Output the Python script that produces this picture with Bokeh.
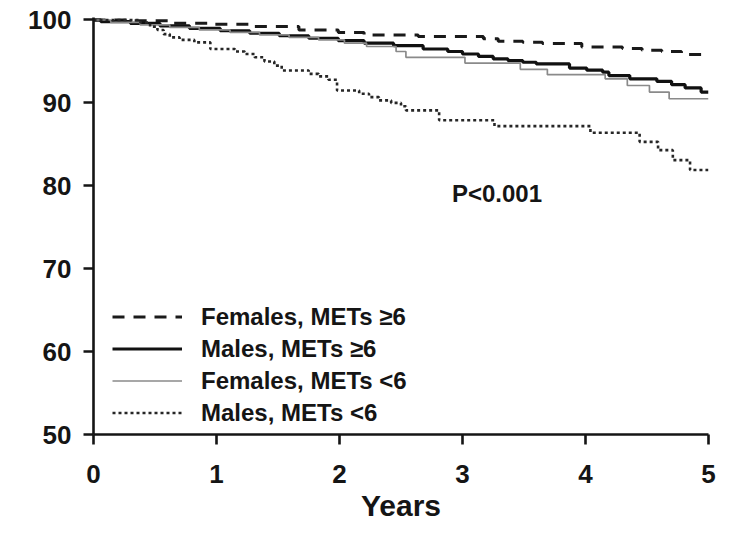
from bokeh.plotting import figure
from bokeh.models import Range1d, FixedTicker, Legend, LegendItem, Label
from bokeh.embed import file_html
from bokeh.resources import INLINE

# ---- data (years, % survival) ----
fem_hi_t = [0, 0.30, 0.62, 0.95, 1.27, 1.67, 1.99, 2.20, 2.64, 3.17, 3.29, 3.49, 3.65, 3.97,
            4.30, 4.46, 4.62, 4.78, 4.94, 5.0]
fem_hi_s = [100, 99.9, 99.6, 99.5, 99.2, 98.8, 98.5, 98.2, 98.0, 97.75, 97.45, 97.3, 97.15, 96.75,
            96.55, 96.35, 96.2, 95.85, 95.75, 95.75]

male_hi_t = [0, 0.06, 0.30, 0.54, 0.78, 1.03, 1.27, 1.51, 1.75, 1.99, 2.20, 2.44, 2.68, 2.88, 3.00,
             3.13, 3.25, 3.37, 3.49, 3.60, 3.87, 4.01, 4.14, 4.19, 4.36, 4.58, 4.70, 4.81, 4.94, 5.0]
male_hi_s = [100, 99.8, 99.6, 99.3, 99.0, 98.7, 98.4, 98.1, 97.8, 97.5, 97.2, 96.9, 96.5, 96.2, 95.9,
             95.6, 95.3, 95.1, 94.9, 94.7, 94.2, 93.95, 93.7, 93.3, 92.9, 92.6, 92.2, 91.8, 91.3, 91.3]

fem_lo_t = [0, 0.14, 0.38, 0.62, 0.86, 1.11, 1.35, 1.59, 1.83, 2.04, 2.22, 2.46, 2.54, 3.02, 3.47,
            3.69, 4.16, 4.34, 4.52, 4.68, 5.0]
fem_lo_s = [100, 99.7, 99.4, 99.1, 98.8, 98.5, 98.2, 97.9, 97.6, 97.2, 96.8, 96.2, 95.5, 94.8, 94.05,
            93.4, 92.9, 92.1, 91.3, 90.5, 90.5]

male_lo_t = [0, 0.38, 0.46, 0.52, 0.57, 0.62, 0.70, 0.82, 0.95, 1.15, 1.23, 1.31, 1.39, 1.47, 1.53,
             1.75, 1.83, 1.91, 1.98, 2.16, 2.24, 2.32, 2.42, 2.50, 2.54, 2.81, 3.26, 4.04, 4.44,
             4.59, 4.71, 4.85, 5.0]
male_lo_s = [100, 99.7, 99.2, 98.8, 98.3, 97.9, 97.6, 97.3, 96.5, 96.2, 95.9, 95.5, 95.0, 94.5, 93.9,
             93.5, 93.2, 92.8, 91.5, 91.1, 90.7, 90.3, 90.0, 89.6, 89.1, 87.9, 87.2, 86.4, 85.3,
             84.3, 83.1, 81.9, 81.9]

series_labels = ["Females, METs \u22656", "Males, METs \u22656",
                 "Females, METs <6", "Males, METs <6"]
x_ticks = [0, 1, 2, 3, 4, 5]
y_ticks = [50, 60, 70, 80, 90, 100]
x_title = "Years"
p_text = "P<0.001"
p_text_pos = (3.28, 79.1)

FONT = "Liberation Sans"
INK = "#151515"

p = figure(width=717, height=524, output_backend="svg", toolbar_location=None,
           x_range=Range1d(0, 5), y_range=Range1d(50, 100.3),
           min_border_left=93, min_border_right=9, min_border_top=17, min_border_bottom=88)
p.outline_line_color = None
p.xgrid.grid_line_color = None
p.ygrid.grid_line_color = None
p.background_fill_color = "white"
p.border_fill_color = "white"

r_fh = p.step(fem_hi_t, fem_hi_s, mode="after", line_color="#1a1a1a", line_width=3.0, line_dash="12 9")
r_mh = p.step(male_hi_t, male_hi_s, mode="after", line_color="#111111", line_width=3.2)
r_fl = p.step(fem_lo_t, fem_lo_s, mode="after", line_color="#8a8a8a", line_width=1.7)
r_ml = p.step(male_lo_t, male_lo_s, mode="after", line_color="#262626", line_width=2.6, line_dash="3 3")

for ax, ticks in ((p.xaxis[0], x_ticks), (p.yaxis[0], y_ticks)):
    ax.ticker = FixedTicker(ticks=ticks)
    ax.axis_line_width = 2.6
    ax.axis_line_color = INK
    ax.major_tick_line_width = 2.6
    ax.major_tick_line_color = INK
    ax.major_tick_out = 10
    ax.major_tick_in = 0
    ax.minor_tick_line_color = None
    ax.major_label_text_font = FONT
    ax.major_label_text_font_style = "bold"
    ax.major_label_text_font_size = "26px"
    ax.major_label_text_color = INK

p.yaxis.major_label_standoff = 12
p.xaxis.major_label_standoff = 20
p.xaxis.axis_label = x_title
p.xaxis.axis_label_text_font = FONT
p.xaxis.axis_label_text_font_style = "bold"
p.xaxis.axis_label_text_font_size = "30px"
p.xaxis.axis_label_text_color = INK
p.xaxis.axis_label_standoff = 3

legend = Legend(items=[LegendItem(label=series_labels[0], renderers=[r_fh]),
                       LegendItem(label=series_labels[1], renderers=[r_mh]),
                       LegendItem(label=series_labels[2], renderers=[r_fl]),
                       LegendItem(label=series_labels[3], renderers=[r_ml])],
                location=(19, 7), orientation="vertical",
                glyph_width=70, glyph_height=29, label_height=29, spacing=3,
                label_standoff=19, padding=0, margin=0,
                border_line_color=None, background_fill_alpha=0,
                label_text_font=FONT, label_text_font_style="bold",
                label_text_font_size="24px", label_text_color=INK)
p.add_layout(legend, "center")

p.add_layout(Label(x=p_text_pos[0], y=p_text_pos[1], text=p_text, text_align="center",
                   text_baseline="middle", text_font=FONT, text_font_style="bold",
                   text_font_size="24px", text_color=INK))

open("out.html", "w").write(file_html(p, INLINE))
